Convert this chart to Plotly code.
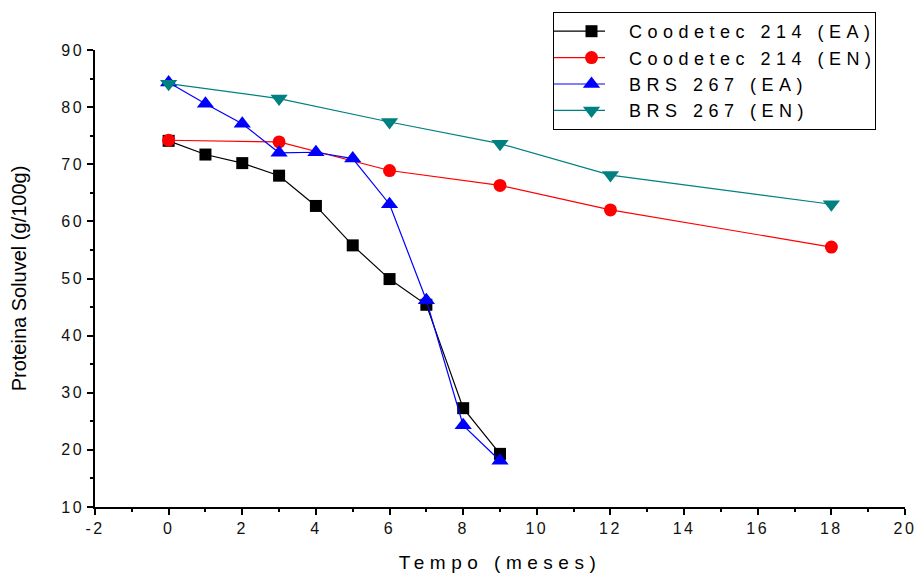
import plotly.graph_objects as go

# Data
x_c214_ea = [0, 1, 2, 3, 4, 5, 6, 7, 8, 9]
y_c214_ea = [74.1, 71.7, 70.2, 68.0, 62.7, 55.8, 49.9, 45.4, 27.3, 19.3]

x_c214_en = [0, 3, 6, 9, 12, 18]
y_c214_en = [74.2, 73.9, 68.9, 66.3, 62.0, 55.5]

x_brs_ea = [0, 1, 2, 3, 4, 5, 6, 7, 8, 9]
y_brs_ea = [84.3, 80.6, 77.1, 72.0, 72.1, 71.0, 63.0, 46.2, 24.3, 18.1]

x_brs_en = [0, 3, 6, 9, 12, 18]
y_brs_en = [84.1, 81.5, 77.4, 73.6, 68.1, 63.0]

x_tick_vals = [-2, 0, 2, 4, 6, 8, 10, 12, 14, 16, 18, 20]
x_tick_labels = ["-2", "0", "2", "4", "6", "8", "10", "12", "14", "16", "18", "20"]

names = ["Coodetec 214 (EA)", "Coodetec 214 (EN)", "BRS 267 (EA)", "BRS 267 (EN)"]
colors = ["#000000", "#ff0000", "#0000ff", "#008080"]
symbols = ["square", "circle", "triangle-up", "triangle-down"]
sizes = [12, 13, 15, 15]

fig = go.Figure()
series = [(x_c214_ea, y_c214_ea), (x_c214_en, y_c214_en), (x_brs_ea, y_brs_ea), (x_brs_en, y_brs_en)]
for (xs, ys), n, c, s, sz in zip(series, names, colors, symbols, sizes):
    fig.add_trace(go.Scatter(
        x=xs, y=ys, name=n, mode="lines+markers",
        line=dict(color=c, width=1.2),
        marker=dict(symbol=s, size=sz, color=c, line=dict(width=0)),
    ))

axis_common = dict(
    showline=True, linecolor="black", linewidth=1.5, mirror=False,
    ticks="outside", ticklen=6, tickwidth=1.5, tickcolor="black",
    showgrid=False, zeroline=False, automargin=False,
    tickfont=dict(family="Liberation Sans, Arial", size=16, color="#111111"),
)

fig.update_layout(
    width=916, height=573,
    margin=dict(l=95, r=11, t=50, b=66, autoexpand=False),
    paper_bgcolor="white", plot_bgcolor="white",
    font=dict(family="Liberation Sans, Arial", color="black"),
    xaxis=dict(range=[-2, 20], tickmode="array", tickvals=x_tick_vals, ticktext=x_tick_labels,
               minor=dict(dtick=1, tick0=-2, ticklen=3, tickwidth=1.5, tickcolor="black", ticks="outside"),
               title=dict(text="Tempo (meses)", font=dict(size=19), standoff=20),
               **axis_common),
    yaxis=dict(range=[10, 90], dtick=10, tick0=10,
               minor=dict(dtick=5, ticklen=3, tickwidth=1.5, tickcolor="black", ticks="outside"),
               title=dict(text="Proteina Soluvel (g/100g)", font=dict(size=20), standoff=34),
               **axis_common),
    legend=dict(
        xref="container", yref="container",
        x=553 / 916, y=1 - 12 / 573, xanchor="left", yanchor="top",
        bordercolor="black", borderwidth=1, bgcolor="white",
        font=dict(family="Liberation Sans, Arial", size=18, color="black"),
        itemwidth=65, tracegroupgap=0,
    ),
    showlegend=True,
)

post = """
document.body.style.margin = '0';
document.body.style.padding = '0';
var gd = document.getElementById('{plot_id}');
function fix(){
  gd.querySelectorAll('.legendtext').forEach(function(t){t.style.letterSpacing='5.5px';});
  var xt = gd.querySelector('.g-xtitle text'); if(xt){xt.style.letterSpacing='5.5px';}
  gd.querySelectorAll('.xtick text, .ytick text').forEach(function(t){t.style.letterSpacing='2.5px';});
  gd.querySelectorAll('.legend .bg').forEach(function(b){b.setAttribute('width', 322);});
  document.querySelectorAll('clipPath[id^="legend"] rect').forEach(function(r){r.setAttribute('width', 322);});
  gd.querySelectorAll('.legend .legendlines path').forEach(function(p){p.setAttribute('d','M-12,0h63');});
}
fix();
if (gd.on) { gd.on('plotly_afterplot', fix); }
setTimeout(fix, 50); setTimeout(fix, 300); setTimeout(fix, 1000);
"""
fig.write_html("out.html", post_script=post, config={"displayModeBar": False})
